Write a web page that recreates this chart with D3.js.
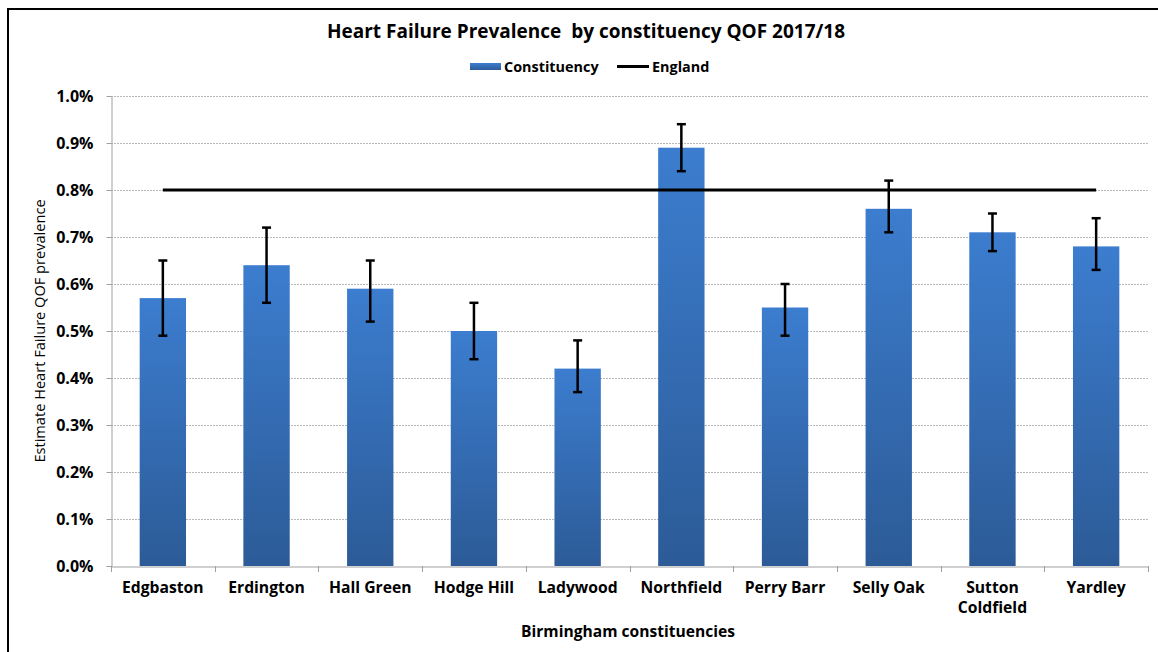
<!DOCTYPE html>
<html><head><meta charset="utf-8">
<script src="https://cdn.jsdelivr.net/npm/d3@7"></script>
<style>body{margin:0;background:#fff;}svg{display:block;}</style>
</head><body>
<script>
const categories = ["Edgbaston","Erdington","Hall Green","Hodge Hill","Ladywood","Northfield","Perry Barr","Selly Oak","Sutton Coldfield","Yardley"];
const values = [0.57,0.64,0.59,0.50,0.42,0.89,0.55,0.76,0.71,0.68];
const lower = [0.49,0.56,0.52,0.44,0.37,0.84,0.49,0.71,0.67,0.63];
const upper = [0.65,0.72,0.65,0.56,0.48,0.94,0.60,0.82,0.75,0.74];
const england = [0.8,0.8,0.8,0.8,0.8,0.8,0.8,0.8,0.8,0.8];
const yTicks = [0,0.1,0.2,0.3,0.4,0.5,0.6,0.7,0.8,0.9,1.0];

(function(){
const W=1158,H=652;
const font="'Open Sans', 'Liberation Sans', sans-serif";
const svg=d3.select("body").append("svg").attr("width",W).attr("height",H);
svg.append("rect").attr("x",8).attr("y",9).attr("width",W+10).attr("height",H+10)
  .attr("fill","#fff").attr("stroke","#000").attr("stroke-width",2);

const pl=111,pr=1148,pt=96,pb=566;
const x=d3.scaleBand().domain(categories).range([pl,pr]).paddingInner(0.553).paddingOuter(0.2765);
const xb=d3.scaleBand().domain(categories).range([pl,pr]);
const y=d3.scaleLinear().domain([0,1.0]).range([pb,pt]);

const defs=svg.append("defs");
const g=defs.append("linearGradient").attr("id","bg").attr("x1",0).attr("y1",0).attr("x2",0).attr("y2",1);
g.append("stop").attr("offset","0%").attr("stop-color","#3c7dcf");
g.append("stop").attr("offset","100%").attr("stop-color","#2c5b97");

svg.append("g").selectAll("line").data(yTicks.slice(1)).join("line")
  .attr("x1",pl).attr("x2",pr).attr("y1",d=>y(d)+0.5).attr("y2",d=>y(d)+0.5)
  .attr("stroke","#b8b8b8").attr("stroke-width",1).attr("stroke-dasharray","2,1");

const yAxis=svg.append("g").attr("transform",`translate(${pl+0.5},0)`)
  .call(d3.axisLeft(y).tickValues(yTicks).tickFormat(d=>d.toFixed(1)+"%").tickSize(5).tickSizeOuter(0));
yAxis.select(".domain").attr("stroke","#a0a0a0");
yAxis.selectAll(".tick line").attr("stroke","#a0a0a0");
yAxis.selectAll("text").attr("font-family",font).attr("font-weight","bold").attr("font-size",16).attr("fill","#000").attr("x",-18);

svg.append("g").selectAll("rect").data(categories).join("rect")
  .attr("x",d=>x(d)).attr("width",x.bandwidth())
  .attr("y",(d,i)=>y(values[i])).attr("height",(d,i)=>y(0)-y(values[i]))
  .attr("fill","url(#bg)");

const xAxis=svg.append("g").attr("transform",`translate(0,${pb+0.5})`)
  .call(d3.axisBottom(xb).tickSize(0).tickFormat(""));
xAxis.select(".domain").attr("stroke","#a0a0a0");
svg.append("g").selectAll("line").data(d3.range(categories.length+1)).join("line")
  .attr("x1",i=>Math.round(pl+i*xb.step())+0.5).attr("x2",i=>Math.round(pl+i*xb.step())+0.5)
  .attr("y1",pb).attr("y2",pb+6).attr("stroke","#a0a0a0");
const labG=svg.append("g").attr("font-family",font).attr("font-weight","bold").attr("font-size",15.7).attr("fill","#000").attr("text-anchor","middle");
categories.forEach(d=>{
  const parts=d==="Sutton Coldfield"?["Sutton","Coldfield"]:[d];
  parts.forEach((p,i)=>{
    labG.append("text").attr("x",xb(d)+xb.bandwidth()/2).attr("y",593+i*20).text(p);
  });
});

svg.append("path")
  .attr("d",d3.line().x((d,i)=>xb(categories[i])+xb.bandwidth()/2).y(d=>y(d))(england))
  .attr("fill","none").attr("stroke","#000").attr("stroke-width",3);

const eb=svg.append("g").attr("stroke","#000").attr("stroke-width",2.5);
categories.forEach((c,i)=>{
  const cx=xb(c)+xb.bandwidth()/2;
  eb.append("line").attr("x1",cx).attr("x2",cx).attr("y1",y(upper[i])).attr("y2",y(lower[i]));
  eb.append("line").attr("x1",cx-4.5).attr("x2",cx+4.5).attr("y1",y(upper[i])).attr("y2",y(upper[i]));
  eb.append("line").attr("x1",cx-4.5).attr("x2",cx+4.5).attr("y1",y(lower[i])).attr("y2",y(lower[i]));
});

svg.append("text").attr("x",586).attr("y",38).attr("text-anchor","middle")
  .attr("font-family",font).attr("font-weight","bold").attr("font-size",19).attr("fill","#000")
  .attr("xml:space","preserve").text("Heart Failure Prevalence  by constituency QOF 2017/18");

svg.append("rect").attr("x",470).attr("y",63).attr("width",31).attr("height",7).attr("fill","url(#bg)");
svg.append("text").attr("x",504).attr("y",71.5).attr("font-family",font).attr("font-weight","bold").attr("font-size",14.4).text("Constituency");
svg.append("line").attr("x1",617).attr("x2",649).attr("y1",66.5).attr("y2",66.5).attr("stroke","#000").attr("stroke-width",3);
svg.append("text").attr("x",652).attr("y",71.5).attr("font-family",font).attr("font-weight","bold").attr("font-size",14.4).text("England");

svg.append("text").attr("transform","translate(45,331) rotate(-90)").attr("text-anchor","middle")
  .attr("font-family",font).attr("font-size",14.6).attr("fill","#000").text("Estimate Heart Failure QOF prevalence");
svg.append("text").attr("x",628).attr("y",637).attr("text-anchor","middle")
  .attr("font-family",font).attr("font-weight","bold").attr("font-size",15.6).attr("fill","#000").text("Birmingham constituencies");
})();
</script>
</body></html>
